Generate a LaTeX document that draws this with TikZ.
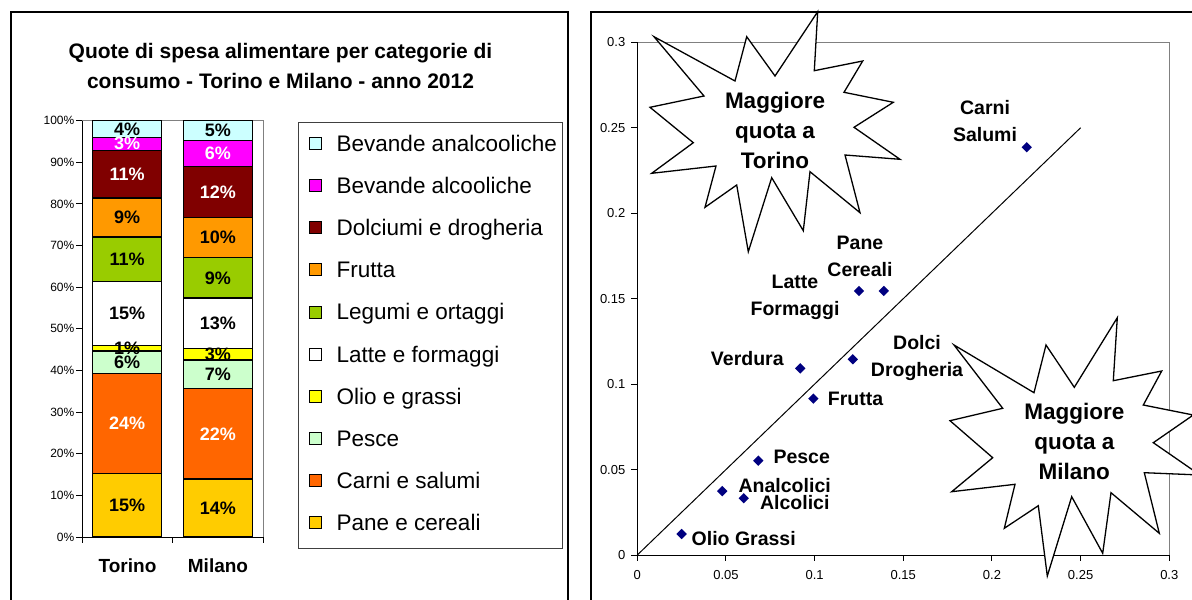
\documentclass[tikz,border=0pt]{standalone}
\usepackage{fontspec}
\setmainfont{Liberation Sans}
\usetikzlibrary{shapes.geometric}
\definecolor{cPane}{HTML}{FFCC00}
\definecolor{cCarni}{HTML}{FF6600}
\definecolor{cPesce}{HTML}{CCFFCC}
\definecolor{cOlio}{HTML}{FFFF00}
\definecolor{cLatte}{HTML}{FFFFFF}
\definecolor{cLegumi}{HTML}{99CC00}
\definecolor{cFrutta}{HTML}{FF9900}
\definecolor{cDolc}{HTML}{800000}
\definecolor{cAlcol}{HTML}{FF00FF}
\definecolor{cAnalc}{HTML}{CCFFFF}
\definecolor{cNavy}{HTML}{000080}
\definecolor{cFrame}{HTML}{808080}
\begin{document}
\begin{tikzpicture}[x=1pt,y=-1pt,
  panel/.style={draw=black,line width=1.3pt},
  seg/.style={draw=black,line width=1.3pt},
  barlbl/.style={font=\fontsize{18}{20}\selectfont\bfseries,inner sep=0pt},
  ticklbl/.style={font=\fontsize{12}{14}\selectfont,inner sep=0pt},
  rticklbl/.style={font=\fontsize{13}{15}\selectfont,inner sep=0pt},
  catlbl/.style={font=\fontsize{19}{22}\selectfont\bfseries,inner sep=0pt},
  titlelbl/.style={font=\fontsize{21}{30}\selectfont\bfseries,align=center,inner sep=0pt},
  legmark/.style={draw=black,line width=0.8pt,minimum size=12pt,inner sep=0pt},
  legtext/.style={font=\fontsize{22.5}{26}\selectfont,inner sep=0pt,text height=16.1pt,text depth=0pt},
  axis/.style={draw=black,line width=1pt},
  frame/.style={draw=cFrame,line width=1pt},
  datapt/.style={diamond,fill=cNavy,draw=none,minimum size=10.5pt,inner sep=0pt},
  ptlbl/.style={font=\fontsize{19.5}{27}\selectfont\bfseries,align=center,inner sep=0pt},
  starshape/.style={fill=white,draw=black,line width=1.3pt,line join=miter},
  startext/.style={font=\fontsize{22.5}{30}\selectfont\bfseries,align=center,inner sep=0pt}
]
\useasboundingbox (0,0) rectangle (1192,600);
\clip (0,0) rectangle (1192,600);
\fill[white] (0,0) rectangle (1192,600);

% ---------------- Left panel ----------------
\draw[panel] (11,605) -- (11,12) -- (568,12) -- (568,605);
\node[titlelbl] (title) at (280.5,66) {Quote di spesa alimentare per categorie di\\consumo - Torino e Milano - anno 2012};

% plot frame
\draw[frame] (82,120.7) -- (263.3,120.7) -- (263.3,537);
% bars
\foreach \a/\b/\c in {0/15.3/cPane,15.3/39.2/cCarni,39.2/44.7/cPesce,44.7/46.0/cOlio,46.0/61.4/cLatte,61.4/72.1/cLegumi,72.1/81.4/cFrutta,81.4/92.9/cDolc,92.9/96.0/cAlcol,96.0/100/cAnalc}
  \filldraw[seg,fill=\c] (92.7,{537-4.163*\a}) rectangle (161.7,{537-4.163*\b});
\foreach \a/\b/\c in {0/13.9/cPane,13.9/35.6/cCarni,35.6/42.5/cPesce,42.5/45.2/cOlio,45.2/57.4/cLatte,57.4/67.1/cLegumi,67.1/76.8/cFrutta,76.8/89.0/cDolc,89.0/95.2/cAlcol,95.2/100/cAnalc}
  \filldraw[seg,fill=\c] (183.3,{537-4.163*\a}) rectangle (252.3,{537-4.163*\b});
% bar labels
\foreach \a/\b/\t/\tc [count=\i] in {0/15.3/15/black,15.3/39.2/24/white,39.2/44.7/6/black,44.7/46.0/1/black,46.0/61.4/15/black,61.4/72.1/11/black,72.1/81.4/9/black,81.4/92.9/11/white,92.9/96.0/3/white,96.0/100/4/black}
  \node[barlbl,text=\tc] (tor\i) at (127.2,{537-4.163*(\a+\b)/2}) {\t\%};
\foreach \a/\b/\t/\tc [count=\i] in {0/13.9/14/black,13.9/35.6/22/white,35.6/42.5/7/black,42.5/45.2/3/black,45.2/57.4/13/black,57.4/67.1/9/black,67.1/76.8/10/black,76.8/89.0/12/white,89.0/95.2/6/white,95.2/100/5/black}
  \node[barlbl,text=\tc] (mil\i) at (217.8,{537-4.163*(\a+\b)/2}) {\t\%};

% axes
\draw[axis] (82,120.7) -- (82,537) -- (263.3,537);
\foreach \k in {0,...,10} {
  \draw[axis] (76,{537-41.63*\k}) -- (82,{537-41.63*\k});
  \node[ticklbl,anchor=east] (ly\k) at (74.5,{537-41.63*\k}) {\pgfmathparse{int(10*\k)}\pgfmathresult\%};
}
\foreach \x in {82,172.7,263.3} \draw[axis] (\x,537) -- (\x,543);
\node[catlbl] (catT) at (127.5,565.7) {Torino};
\node[catlbl] (catM) at (218,565.7) {Milano};

% legend
\draw[draw=black!75,line width=0.8pt] (298.3,122.7) rectangle (562.7,548.3);
\foreach \c/\t [count=\i from 0] in {cAnalc/Bevande analcooliche,cAlcol/Bevande alcooliche,cDolc/Dolciumi e drogheria,cFrutta/Frutta,cLegumi/Legumi e ortaggi,cLatte/Latte e formaggi,cOlio/Olio e grassi,cPesce/Pesce,cCarni/Carni e salumi,cPane/Pane e cereali} {
  \node[legmark,fill=\c] (lm\i) at (315.7,{143.3+42.15*\i}) {};
  \node[legtext,anchor=west] (lt\i) at (336.5,{143.3+42.15*\i}) {\t};
}

% ---------------- Right panel ----------------
\draw[panel] (591,605) -- (591,12) -- (1200,12);
\draw[frame] (637.3,42.3) -- (1169.3,42.3) -- (1169.3,555);
\draw[axis] (637.3,42.3) -- (637.3,555) -- (1169.3,555);
\foreach \v/\t in {0/0,0.05/0.05,0.1/0.1,0.15/0.15,0.2/0.2,0.25/0.25,0.3/0.3} {
  \draw[axis] (631,{555-1709*\v}) -- (637.3,{555-1709*\v});
  \draw[axis] ({637.3+1773.3*\v},555) -- ({637.3+1773.3*\v},561);
  \node[rticklbl,anchor=east] at (625.5,{555-1709*\v}) {\t};
  \node[rticklbl] at ({637.3+1773.3*\v},575.5) {\t};
}

\begin{scope}[shift={(637.3,555)},x={(1773.3pt,0pt)},y={(0pt,1709pt)}]
  \coordinate (d0) at (0,0);
  \coordinate (d1) at (0.25,0.25);
  \draw[black,line width=1pt] (d0) -- (d1);
  \node[datapt] (pCarni) at (0.2196,0.2386) {};
  \node[datapt] (pLatte) at (0.125,0.1545) {};
  \node[datapt] (pPane) at (0.139,0.1545) {};
  \node[datapt] (pVerdura) at (0.0919,0.1092) {};
  \node[datapt] (pDolci) at (0.1215,0.1145) {};
  \node[datapt] (pFrutta) at (0.0993,0.0915) {};
  \node[datapt] (pPesce) at (0.0682,0.0552) {};
  \node[datapt] (pAnalc) at (0.0479,0.0374) {};
  \node[datapt] (pAlcol) at (0.06,0.0332) {};
  \node[datapt] (pOlio) at (0.025,0.0123) {};
\end{scope}

\node[ptlbl] (lCarni) at (985,121) {Carni\\Salumi};
\node[ptlbl] (lPane) at (860,256) {Pane\\Cereali};
\node[ptlbl] (lLatte) at (795,297.5) {Latte\\Formaggi};
\node[ptlbl] (lVerdura) at (747.3,359) {Verdura};
\node[ptlbl] (lDolci) at (917,358) {Dolci\\Drogheria};
\node[ptlbl] (lFrutta) at (855.5,399.3) {Frutta};
\node[ptlbl] (lPesce) at (801.7,456.7) {Pesce};
\node[ptlbl] (lAnalc) at (784.7,485.7) {Analcolici};
\node[ptlbl] (lAlcol) at (794.8,502.7) {Alcolici};
\node[ptlbl] (lOlio) at (743.7,539) {Olio Grassi};

% stars
\draw[starshape] (654,36.7) -- (735,81) -- (746.7,36.7) -- (775,76) -- (817.7,11.7) -- (814.3,70.7) -- (862.7,61) -- (844,92.3) -- (893.3,102.3) -- (854,127.3) -- (900,159.3) -- (845,155) -- (860,212.7) -- (810,171.7) -- (803.3,230.7) -- (771.7,177.7) -- (748.3,251.7) -- (736.7,185) -- (705,207.3) -- (716,166) -- (651.7,173.3) -- (693.3,142.7) -- (650,107.3) -- (704,96) -- cycle;
\node[startext] (sTorino) at (775,130) {Maggiore\\quota a\\Torino};

\draw[starshape] (954,345) -- (1034,392.7) -- (1046,345) -- (1074.3,387.3) -- (1117.3,317.7) -- (1113.3,380.7) -- (1161.7,371) -- (1143.3,405) -- (1193.3,415) -- (1153.3,442.7) -- (1200,475) -- (1144.3,472.7) -- (1159.3,533.3) -- (1111,492.7) -- (1102.7,553.3) -- (1071.7,496.7) -- (1047.3,576) -- (1038.3,505.7) -- (1004.3,528.3) -- (1015,484.3) -- (951.7,491.7) -- (992.7,457.7) -- (950,420.7) -- (1002.7,408.3) -- cycle;
\node[startext] (sMilano) at (1074.3,441.7) {Maggiore\\quota a\\Milano};
\end{tikzpicture}
\end{document}
